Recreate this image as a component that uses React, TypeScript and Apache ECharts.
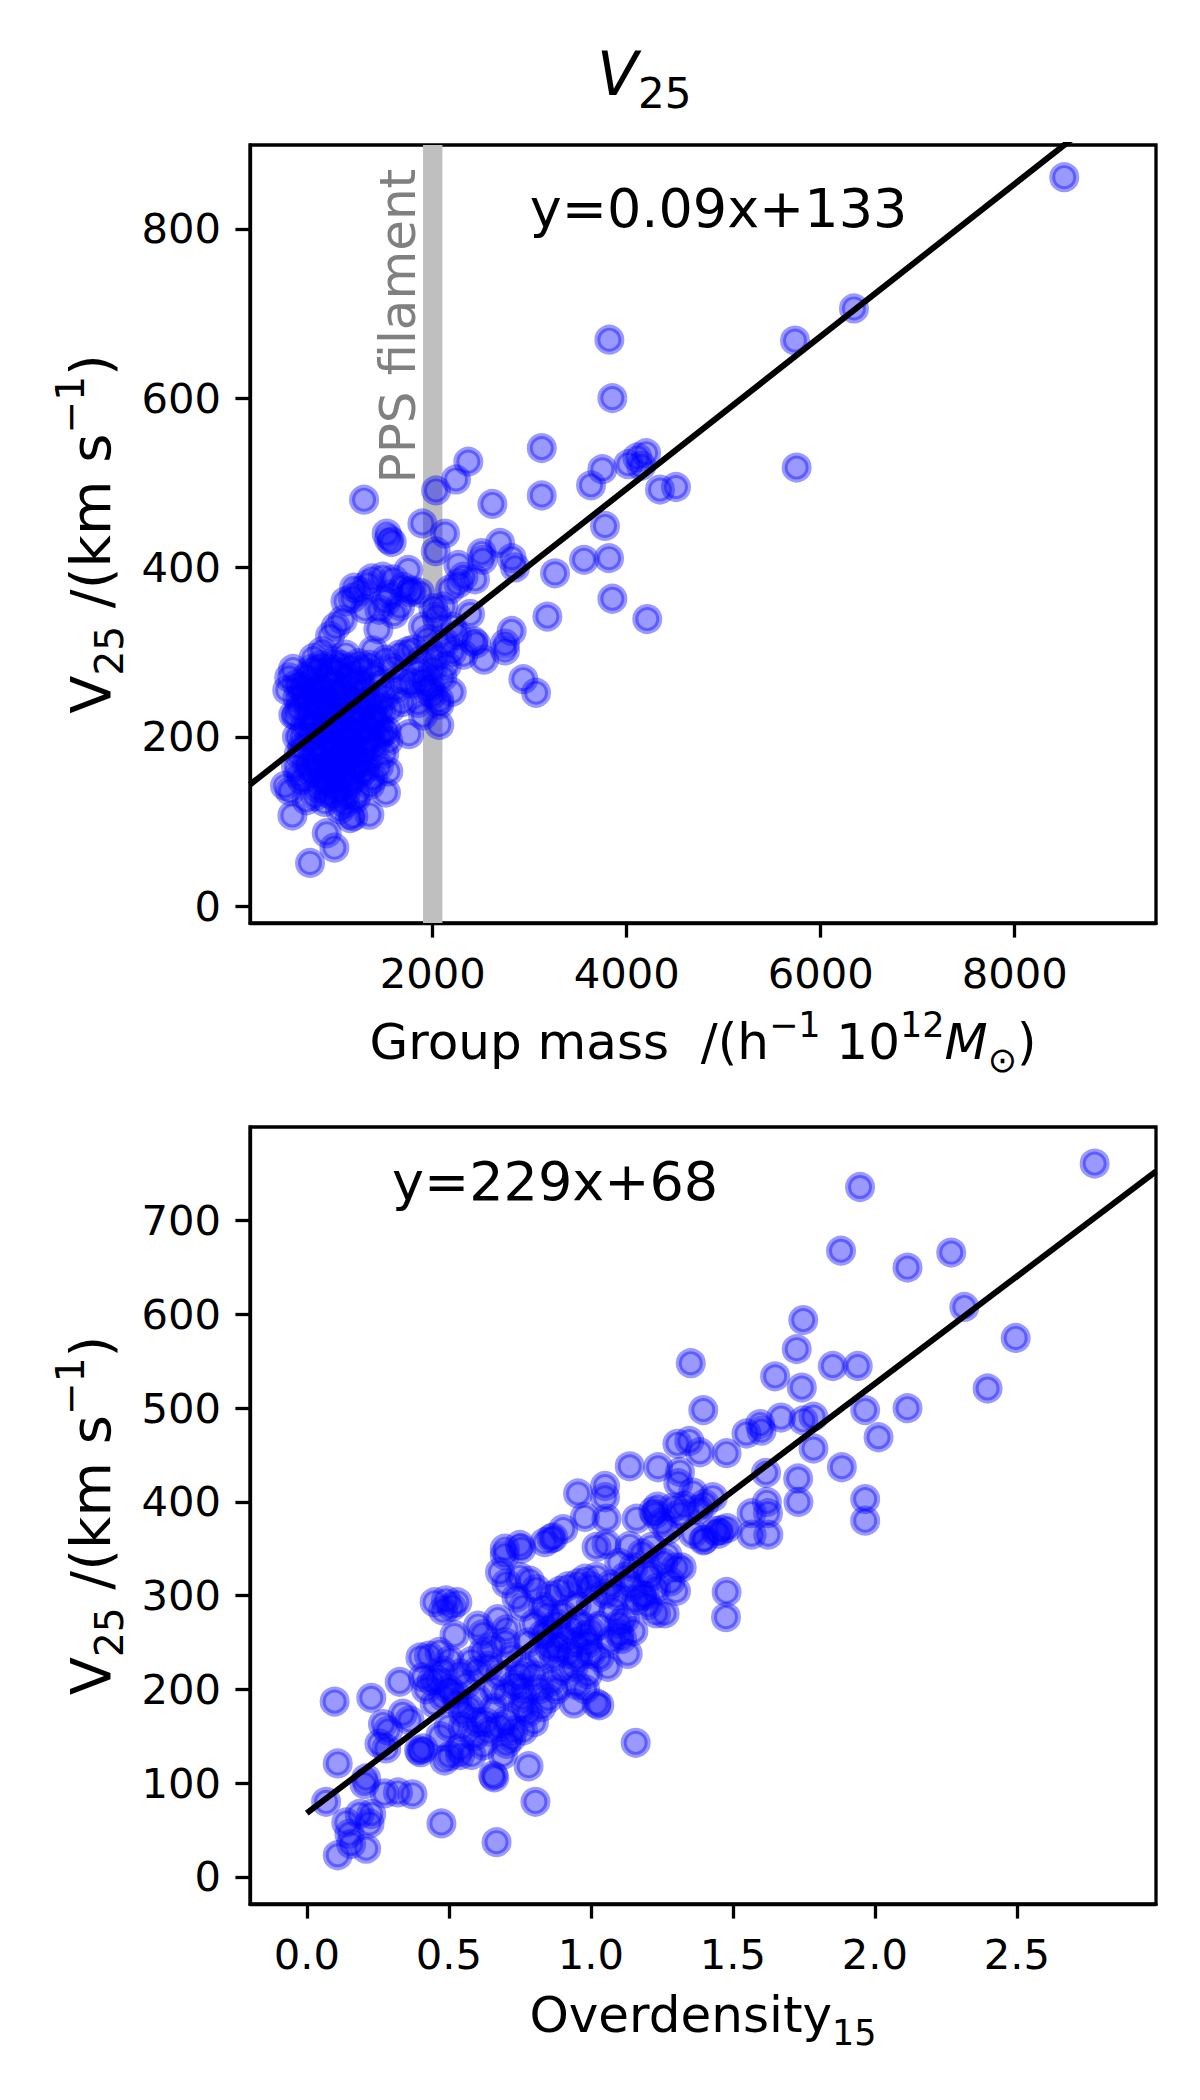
import React, { useEffect, useRef } from "react";
import * as echarts from "echarts";

const FONT = "DejaVu Sans";

// ---------- axes ----------
const massTicks = [2000, 4000, 6000, 8000];
const v25MassTicks = [0, 200, 400, 600, 800];
const overTicks = [0, 0.5, 1, 1.5, 2, 2.5];
const v25OverTicks = [0, 100, 200, 300, 400, 500, 600, 700];

const massRange = [116, 9457];
const v25MassRange = [-20, 899];
const overRange = [-0.2, 2.99];
const v25OverRange = [-29, 800];

// ---------- annotations / fits ----------
const filamentBand = [1900, 2100];
const fitMass = { slope: 0.09, intercept: 133, label: "y=0.09x+133", at: [3000, 800] };
const fitOver = { slope: 229, intercept: 68, label: "y=229x+68", at: [0.3, 720] };
const filamentLabelAt = [1642, 685];

// ---------- data: group mass vs V25 ----------
const massV25: number[][] = [
  [8511, 861], [6343, 706], [5735, 668], [5752, 518], [4508, 495], [4343, 492],
  [3821, 669], [3852, 600], [3124, 541], [3124, 485], [3632, 497], [3749, 516], [4017, 522], [4110, 530], [4200, 535], [4150, 520],
  [3776, 449], [3818, 411], [3560, 409], [3261, 393], [3852, 363], [4212, 339], [3182, 342],
  [2367, 525], [2240, 504], [2034, 491], [1292, 480], [2615, 475], [1893, 452], [2127, 440], [2031, 419],
  [1525, 440], [1550, 433], [1577, 430],
  [2694, 429], [2505, 417], [2515, 409], [2264, 403], [2814, 411], [2849, 400],
  [2814, 325], [2745, 310], [2745, 302], [2934, 268], [3065, 252], [2529, 291], [2420, 313], [2446, 310], [2316, 297], [2385, 345],
  [2264, 381], [2316, 389], [2436, 386], [2178, 374],
  [2127, 311], [2144, 284], [2196, 253], [2068, 238], [2068, 243], [2068, 214], [1972, 260], [1903, 266], [1938, 255], [2041, 295], [2041, 342], [2006, 352], [2110, 354],
  [1800, 303], [1766, 371], [1663, 354], [1697, 377], [1783, 373], [1869, 370], [1749, 397], [1594, 386], [1484, 389], [1371, 387], [1189, 376], [1175, 364], [1302, 351], [1072, 338], [941, 319], [1439, 327],
  [1100, 360], [1250, 372], [1330, 380], [1000, 330], [1520, 360], [1600, 345], [1450, 350], [1560, 368],
  [1900, 330], [1950, 315], [2200, 330], [2250, 320], [1880, 290], [2000, 280], [2100, 270], [2200, 300],
  [1850, 240], [1900, 225], [2000, 250],
  [563, 226], [1756, 203], [1525, 207], [1542, 195], [1542, 159], [1518, 134], [1347, 108], [1147, 104], [1182, 106], [1044, 114], [907, 86], [986, 69], [735, 51], [553, 107], [529, 136], [700, 125], [790, 130], [930, 133], [650, 149], [735, 160], [615, 155], [477, 142],
  [591, 225], [663, 250], [757, 256], [500, 255], [520, 270], [560, 280], [600, 262],
  [770, 293], [860, 301], [985, 289], [1105, 297], [1235, 287], [1385, 302], [1515, 291], [1655, 297], [1745, 301],
  [705, 271], [815, 279], [905, 269], [1015, 277], [1125, 270], [1265, 279], [1405, 271], [1585, 281], [1705, 267], [1845, 276],
  [645, 259], [755, 263], [865, 254], [965, 263], [1065, 257], [1175, 263], [1305, 255], [1455, 261], [1625, 257], [1775, 263],
  [605, 246], [705, 249], [805, 241], [905, 247], [1005, 239], [1105, 249], [1225, 243], [1355, 241], [1505, 247], [1685, 241],
  [625, 233], [725, 227], [825, 235], [925, 225], [1035, 233], [1145, 227], [1265, 231], [1405, 225], [1565, 233],
  [685, 213], [785, 219], [885, 211], [985, 217], [1085, 209], [1185, 219], [1305, 211], [1445, 217],
  [725, 199], [835, 205], [935, 197], [1035, 203], [1135, 195], [1235, 205], [1355, 197], [1485, 205],
  [655, 187], [765, 181], [875, 189], [975, 183], [1075, 179], [1175, 187], [1285, 181], [1405, 189],
  [705, 167], [805, 173], [905, 165], [1005, 171], [1105, 175], [1205, 167], [1325, 173], [1445, 165],
  [765, 157], [865, 151], [965, 159], [1065, 153], [1165, 149], [1265, 157], [1385, 151],
  [825, 139], [925, 145], [1025, 137], [1125, 143], [1235, 135], [1355, 143],
  [885, 123], [985, 129], [1095, 121], [1205, 127],
  [750, 280], [850, 285], [950, 280], [1050, 285], [1150, 282], [1250, 266], [1350, 285],
  [720, 240], [820, 255], [920, 235], [1020, 250], [1120, 238], [1200, 252], [1300, 240],
  [760, 210], [860, 222], [960, 208], [1060, 222], [1160, 206], [1260, 222], [1360, 210],
  [800, 190], [900, 178], [1000, 192], [1100, 188], [1200, 178], [1300, 192],
  [850, 162], [950, 170], [1050, 164], [1150, 162], [1250, 170],
  [900, 148], [1000, 150], [1100, 132], [1300, 160],
  [620, 180], [600, 200], [650, 200], [590, 165],
  [1450, 200], [1500, 180], [1420, 240], [1470, 230], [1380, 220],
];

// ---------- data: overdensity vs V25 ----------
const overV25: number[][] = [
  [2.774, 761], [1.948, 736], [1.881, 668], [2.115, 650], [2.269, 666], [2.315, 608], [2.496, 575], [2.397, 521],
  [1.748, 594], [1.725, 563], [1.352, 548], [1.649, 534], [1.743, 522], [1.852, 545], [1.94, 545], [1.396, 498],
  [1.966, 498], [2.115, 500], [2.013, 469], [1.784, 457], [1.884, 437], [1.966, 403], [1.617, 431], [1.73, 425],
  [1.67, 490], [1.748, 487], [1.784, 491], [1.596, 483], [1.548, 473], [1.601, 476], [1.478, 452],
  [1.305, 462], [1.347, 465], [1.384, 453], [1.237, 437], [1.314, 432], [1.308, 420],
  [1.566, 388], [1.624, 388], [1.4, 398], [1.43, 405], [1.38, 392], [1.36, 410], [1.33, 396],
  [1.27, 370], [1.25, 378], [1.235, 395], [1.32, 330], [1.255, 335], [1.478, 304], [1.23, 308], [1.21, 320],
  [1.966, 380], [1.476, 277], [1.566, 365], [1.625, 365], [1.45, 366], [1.44, 369], [1.48, 372], [1.4, 360], [1.62, 400], [1.731, 400],
  [1.137, 438], [0.955, 409], [1.05, 417], [1.05, 405], [0.979, 384], [1.055, 382], [1.161, 382], [0.903, 371], [0.861, 361], [1.22, 390], [0.697, 350], [0.75, 354],
  [0.109, 23], [0.209, 30], [0.156, 35], [0.15, 46], [0.139, 58], [0.221, 57], [0.227, 67], [0.186, 67], [0.068, 80], [0.109, 121], [0.098, 187], [0.227, 191],
  [0.209, 105], [0.203, 99], [0.274, 89], [0.321, 90], [0.372, 88], [0.327, 208], [0.268, 163], [0.286, 156], [0.338, 174], [0.362, 167], [0.256, 142], [0.28, 137],
  [0.395, 135], [0.4, 133], [0.41, 137], [0.485, 124], [0.503, 129], [0.538, 137], [0.474, 57], [0.668, 37], [0.656, 108], [0.66, 106], [0.781, 118], [0.805, 80], [1.158, 143],
  [0.45, 293], [0.49, 295], [0.53, 293], [0.48, 284], [0.51, 288], [0.52, 258], [0.603, 268], [0.62, 259], [0.673, 275], [0.703, 264], [0.703, 142], [0.68, 160], [0.703, 167], [0.727, 156],
  [0.4, 234], [0.43, 236], [0.467, 240], [0.503, 231], [0.41, 213], [0.44, 209], [0.48, 220], [0.54, 217], [0.6, 220], [0.45, 185], [0.48, 192], [0.53, 186], [0.55, 175], [0.57, 180],
  [0.697, 343], [0.755, 350], [0.838, 357], [0.868, 362], [1.02, 352], [1.055, 355], [1.137, 353], [1.226, 387], [1.29, 394], [1.313, 387], [1.214, 352], [1.27, 343], [1.36, 366], [1.396, 359], [1.46, 370],
  [0.68, 325], [0.703, 313], [0.75, 320], [0.785, 316], [0.808, 307], [0.738, 298], [0.762, 288], [0.832, 288], [0.86, 300], [0.89, 305], [0.92, 310], [0.955, 313], [0.98, 318], [1.0, 310], [1.02, 320], [1.05, 302], [1.07, 312], [1.09, 300],
  [1.1, 270], [1.1, 259], [1.13, 238], [1.06, 224], [1.16, 295], [1.19, 300], [1.23, 281], [1.26, 281], [1.3, 305],
  [0.98, 258], [0.99, 249], [1.0, 238], [1.03, 234], [0.94, 224], [0.99, 216], [0.86, 208], [0.94, 185], [1.02, 185], [1.03, 183], [0.826, 181], [0.76, 181], [0.76, 191], [0.75, 215], [0.77, 222], [0.76, 201],
  [0.832, 259], [0.855, 245], [0.762, 156], [0.88, 245], [0.92, 238], [0.955, 234], [1.07, 252], [1.11, 254],
  [0.85, 262], [0.88, 270], [0.9, 255], [0.93, 265], [0.96, 270], [1.0, 262], [1.03, 268], [0.87, 235], [0.95, 250],
  [0.42, 200], [0.46, 210], [0.5, 200], [0.52, 195], [0.56, 205], [0.58, 230], [0.62, 240], [0.64, 225], [0.6, 190], [0.55, 160], [0.59, 150], [0.63, 165], [0.66, 180], [0.5, 160], [0.47, 150], [0.62, 140], [0.58, 130], [0.54, 130],
  [0.72, 148], [0.69, 130], [0.6, 165], [0.64, 155],
  [0.78, 175], [0.82, 200], [0.8, 215], [0.85, 190], [0.8, 165],
  [1.08, 285], [1.12, 275], [1.15, 262], [1.18, 300], [1.2, 290], [1.14, 310],
  [1.1, 335], [1.15, 330], [1.12, 320], [1.18, 345], [1.2, 325], [1.3, 330], [1.28, 315],
  [0.65, 245], [0.7, 250], [0.72, 235], [0.68, 215], [0.7, 195], [0.73, 205], [0.66, 200],
  [0.9, 280], [0.95, 290], [1.0, 290], [0.85, 280], [0.8, 270], [0.78, 250], [0.82, 235],
  [0.9, 220], [0.95, 205], [0.88, 200], [0.98, 200],
];

// ---------- styles ----------
const BLACK = "#000000";
const SPINE = 3.3;
const TICK_FONT = 41.7;

function valueAxis(gridIndex: number, range: number[], ticks: number[], fmt: (v: number) => string, extra: any) {
  return {
    type: "value",
    gridIndex,
    min: range[0],
    max: range[1],
    axisLine: { show: true, onZero: false, lineStyle: { color: BLACK, width: SPINE } },
    axisTick: { show: true, inside: false, length: 14.6, customValues: ticks, lineStyle: { color: BLACK, width: SPINE } },
    axisLabel: {
      show: true,
      customValues: ticks,
      margin: 29,
      fontSize: TICK_FONT,
      fontFamily: FONT,
      color: BLACK,
      formatter: (v: number) => fmt(v),
    },
    splitLine: { show: false },
    ...extra,
  };
}

const yLabel = "{b|V}{s|25}{b|\u00a0/(km s}{p|\u22121}{b|)}";
const yLabelStyle = {
  color: BLACK,
  fontFamily: FONT,
  fontSize: 56,
  rich: {
    b: { fontFamily: FONT, fontSize: 56, lineHeight: 78, verticalAlign: "middle", color: BLACK },
    s: { fontFamily: FONT, fontSize: 39, lineHeight: 45, verticalAlign: "bottom", color: BLACK },
    p: { fontFamily: FONT, fontSize: 39, lineHeight: 48, verticalAlign: "top", color: BLACK },
  },
};

function buildOption() {
  const lineTop = [
    [massRange[0], fitMass.slope * massRange[0] + fitMass.intercept],
    [massRange[1], fitMass.slope * massRange[1] + fitMass.intercept],
  ];
  const lineBottom = [
    [0, fitOver.intercept],
    [overRange[1], fitOver.slope * overRange[1] + fitOver.intercept],
  ];
  const scatterStyle = {
    color: "rgba(0,0,255,0.5)",
    borderColor: "rgba(0,0,255,0.5)",
    borderWidth: 6,
  };
  return {
    animation: false,
    backgroundColor: "#ffffff",
    textStyle: { fontFamily: FONT },
    title: {
      text: "{v|V}{s|25}",
      left: 592,
      top: 29,
      textStyle: {
        color: BLACK,
        fontWeight: "normal",
        rich: {
          v: { fontFamily: FONT, fontStyle: "italic", fontWeight: "normal", fontSize: 60, lineHeight: 80, verticalAlign: "middle", color: BLACK },
          s: { fontFamily: FONT, fontWeight: "normal", fontSize: 42, lineHeight: 48, verticalAlign: "bottom", color: BLACK },
        },
      },
    },
    grid: [
      { left: 250, top: 145, width: 906, height: 778, show: true, borderColor: BLACK, borderWidth: SPINE, backgroundColor: "transparent" },
      { left: 250, top: 1127, width: 906, height: 777, show: true, borderColor: BLACK, borderWidth: SPINE, backgroundColor: "transparent" },
    ],
    xAxis: [
      valueAxis(0, massRange, massTicks, (v) => String(v), {
        name: "{b|Group mass\u00a0\u00a0/(h}{p|\u22121}{b|\u00a010}{p|12}{i|M}{s|\u2299}{b|)}",
        nameLocation: "middle",
        nameGap: 84,
        nameTextStyle: {
          color: BLACK,
          fontFamily: FONT,
          fontSize: 50,
          rich: {
            b: { fontFamily: FONT, fontSize: 50, lineHeight: 70, verticalAlign: "middle", color: BLACK },
            i: { fontFamily: FONT, fontStyle: "italic", fontSize: 50, lineHeight: 70, verticalAlign: "middle", color: BLACK },
            p: { fontFamily: FONT, fontSize: 35, lineHeight: 44, verticalAlign: "top", color: BLACK },
            s: { fontFamily: FONT, fontSize: 35, lineHeight: 36, verticalAlign: "bottom", color: BLACK },
          },
        },
      }),
      valueAxis(1, overRange, overTicks, (v) => v.toFixed(1), {
        name: "{b|Overdensity}{s|15}",
        nameLocation: "middle",
        nameGap: 76,
        nameTextStyle: {
          color: BLACK,
          fontFamily: FONT,
          fontSize: 50,
          rich: {
            b: { fontFamily: FONT, fontSize: 50, lineHeight: 70, verticalAlign: "middle", color: BLACK },
            s: { fontFamily: FONT, fontSize: 35, lineHeight: 36, verticalAlign: "bottom", color: BLACK },
          },
        },
      }),
    ],
    yAxis: [
      valueAxis(0, v25MassRange, v25MassTicks, (v) => String(v), {
        name: yLabel,
        nameLocation: "middle",
        nameGap: 121,
        nameTextStyle: yLabelStyle,
      }),
      valueAxis(1, v25OverRange, v25OverTicks, (v) => String(v), {
        name: yLabel,
        nameLocation: "middle",
        nameGap: 121,
        nameTextStyle: yLabelStyle,
      }),
    ],
    series: [
      {
        type: "line",
        xAxisIndex: 0,
        yAxisIndex: 0,
        data: lineTop,
        showSymbol: false,
        symbol: "none",
        silent: true,
        z: 3,
        clip: true,
        lineStyle: { color: BLACK, width: 6 },
        markArea: {
          silent: true,
          itemStyle: { color: "#bfbfbf", opacity: 1, borderWidth: 0 },
          data: [[{ xAxis: filamentBand[0] }, { xAxis: filamentBand[1] }]],
        },
      },
      {
        type: "scatter",
        xAxisIndex: 0,
        yAxisIndex: 0,
        data: massV25,
        symbol: "circle",
        symbolSize: 24,
        itemStyle: scatterStyle,
        silent: true,
        z: 2,
      },
      {
        type: "scatter",
        xAxisIndex: 1,
        yAxisIndex: 1,
        data: overV25,
        symbol: "circle",
        symbolSize: 24,
        itemStyle: scatterStyle,
        silent: true,
        z: 2,
      },
      {
        type: "line",
        xAxisIndex: 1,
        yAxisIndex: 1,
        data: lineBottom,
        showSymbol: false,
        symbol: "none",
        silent: true,
        z: 3,
        clip: true,
        lineStyle: { color: BLACK, width: 6 },
      },
    ],
  };
}

export default function App() {
  const ref = useRef<HTMLDivElement | null>(null);
  useEffect(() => {
    if (!ref.current) return;
    const chart = echarts.init(ref.current, undefined, { renderer: "svg" });
    chart.setOption(buildOption() as any);
    const eqTop = chart.convertToPixel({ gridIndex: 0 } as any, fitMass.at) as number[];
    const eqBottom = chart.convertToPixel({ gridIndex: 1 } as any, fitOver.at) as number[];
    const fil = chart.convertToPixel({ gridIndex: 0 } as any, filamentLabelAt) as number[];
    chart.setOption({
      graphic: [
        {
          type: "text",
          x: eqTop[0],
          y: eqTop[1] - 20,
          z: 100,
          silent: true,
          style: { text: fitMass.label, fill: BLACK, opacity: 1, fontSize: 54, fontFamily: FONT, align: "left", verticalAlign: "middle" },
        },
        {
          type: "text",
          x: eqBottom[0],
          y: eqBottom[1] - 20,
          z: 100,
          silent: true,
          style: { text: fitOver.label, fill: BLACK, opacity: 1, fontSize: 54, fontFamily: FONT, align: "left", verticalAlign: "middle" },
        },
        {
          type: "text",
          x: fil[0],
          y: fil[1],
          rotation: Math.PI / 2,
          z: 100,
          silent: true,
          style: { text: "PPS filament", fill: "#808080", opacity: 1, fontSize: 50, fontFamily: FONT, align: "center", verticalAlign: "middle" },
        },
      ],
    } as any);
    return () => {
      chart.dispose();
    };
  }, []);
  return (
    <div
      ref={ref}
      style={{ position: "absolute", left: 0, top: 0, width: 1200, height: 2100, background: "#fff" }}
    />
  );
}
